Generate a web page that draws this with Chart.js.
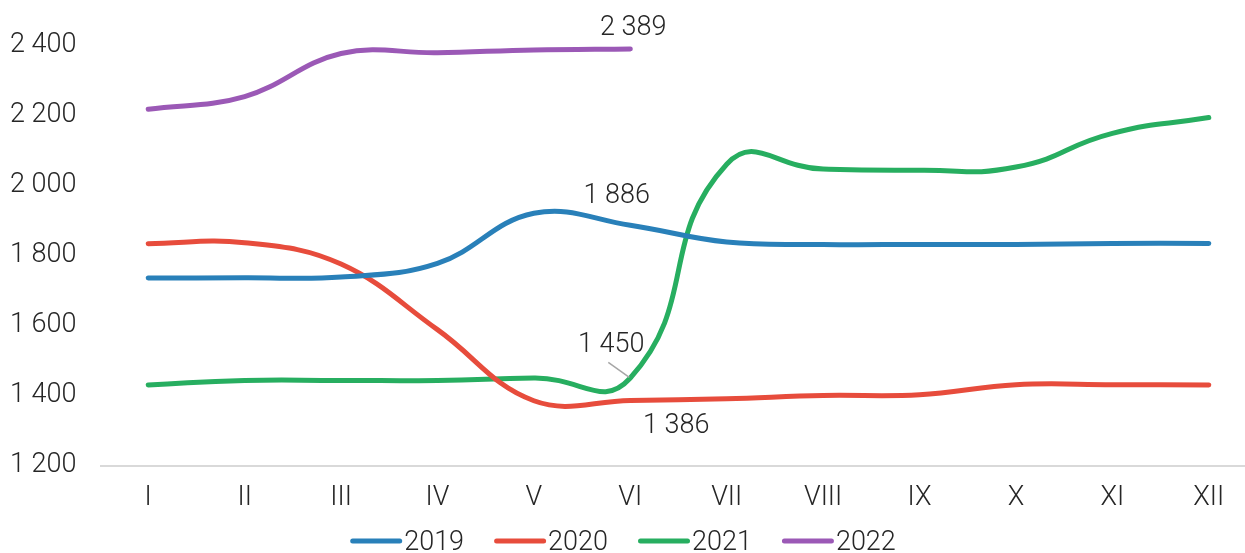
<!DOCTYPE html>
<html><head><meta charset="utf-8">
<script src="https://cdn.jsdelivr.net/npm/chart.js@4/dist/chart.umd.min.js"></script>
<style>
html,body{margin:0;padding:0;background:#fff;overflow:hidden;width:1245px;height:553px}
#wrap{width:1258px;height:553px;position:relative}
</style></head>
<body><div id="wrap"><canvas id="c"></canvas></div>
<script>
const categories = ['I','II','III','IV','V','VI','VII','VIII','IX','X','XI','XII'];
const seriesNames = ['2019','2020','2021','2022'];
const values2019 = [1735, 1736, 1738, 1777, 1920, 1886, 1838, 1831, 1831, 1831, 1834, 1834];
const values2020 = [1833, 1836, 1775, 1588, 1385, 1386, 1391, 1400, 1402, 1431, 1431, 1430];
const values2021 = [1430, 1443, 1443, 1443, 1450, 1450, 2060, 2046, 2043, 2052, 2148, 2193];
const values2022 = [2217, 2253, 2376, 2378, 2386, 2389];
const yTicks = [1200, 1400, 1600, 1800, 2000, 2200, 2400];
const colors = ['#2980b9', '#e74c3c', '#27ae60', '#9b59b6'];
// labelled points: [series index, category index]
const labelled = [[3,5],[0,5],[2,5],[1,5]];

const FONT = 'Roboto';
const FS = 27;
const fmt = v => String(v).replace(/\B(?=(\d{3})+(?!\d))/g, ' ');

const seriesValues = [values2019, values2020, values2021, values2022];

const labelPlugin = {
  id: 'pointLabels',
  afterDatasetsDraw(chart) {
    const ctx = chart.ctx;
    ctx.save();
    ctx.font = `300 ${FS}px ${FONT}`;
    ctx.fillStyle = '#262626';
    ctx.textAlign = 'center';
    ctx.textBaseline = 'alphabetic';
    const offs = {3:[3,-14], 0:[-13.5,-22], 2:[-19,-25.5], 1:[46,33]};
    labelled.forEach(([s,i]) => {
      const el = chart.getDatasetMeta(s).data[i];
      const [dx,dy] = offs[s];
      if (s === 2) {
        ctx.strokeStyle = '#a6a6a6';
        ctx.lineWidth = 1.5;
        ctx.beginPath();
        ctx.moveTo(el.x - 22, el.y - 15.5);
        ctx.lineTo(el.x - 1, el.y - 0.5);
        ctx.stroke();
      }
      ctx.fillText(fmt(seriesValues[s][i]), el.x + dx, el.y + dy);
    });
    ctx.restore();
  }
};

const legendPlugin = {
  id: 'customLegend',
  afterDraw(chart) {
    const ctx = chart.ctx;
    ctx.save();
    ctx.font = `300 ${FS}px ${FONT}`;
    const lineLen = 52, gapText = 3, gapItem = 29;
    const widths = seriesNames.map(n => ctx.measureText(n).width);
    const total = widths.reduce((a,w)=>a + lineLen + gapText + w, 0) + gapItem*(seriesNames.length-1);
    let x = 623.5 - total/2;
    const yLine = 541, yText = 550;
    seriesNames.forEach((n, k) => {
      ctx.strokeStyle = colors[k];
      ctx.lineWidth = 5;
      ctx.lineCap = 'round';
      ctx.beginPath();
      ctx.moveTo(x + 2.5, yLine);
      ctx.lineTo(x + lineLen - 2.5, yLine);
      ctx.stroke();
      ctx.fillStyle = '#262626';
      ctx.textAlign = 'left';
      ctx.textBaseline = 'alphabetic';
      ctx.fillText(n, x + lineLen + gapText - 1, yText);
      x += lineLen + gapText + widths[k] + gapItem;
    });
    ctx.restore();
  }
};

function build() {
  new Chart(document.getElementById('c'), {
    type: 'line',
    data: {
      labels: categories,
      datasets: seriesNames.map((n, k) => ({
        label: n,
        data: seriesValues[k],
        borderColor: colors[k],
        backgroundColor: colors[k],
        borderWidth: 5,
        pointRadius: 0,
        tension: k === 2 ? 0.5 : 0.4,
        borderCapStyle: 'round',
        borderJoinStyle: 'round',
        clip: false,
        fill: false
      }))
    },
    options: {
      responsive: true,
      maintainAspectRatio: false,
      animation: false,
      events: [],
      layout: { padding: { top: 10, right: 1, bottom: 23, left: 10 } },
      plugins: { legend: { display: false }, tooltip: { enabled: false } },
      scales: {
        x: {
          offset: true,
          grid: { display: false, drawTicks: false },
          border: { display: false },
          ticks: { color: '#262626', font: { family: FONT, size: FS, weight: 300 }, padding: 16, maxRotation: 0, autoSkip: false }
        },
        y: {
          min: 1200, max: 2500,
          bounds: 'data',
          afterBuildTicks: s => { s.ticks = yTicks.map(v => ({ value: v })); },
          afterFit: s => { s.width = 90; },
          grid: {
            drawTicks: false,
            color: c => (c.tick && c.tick.value === 1200) ? '#d9d9d9' : 'rgba(0,0,0,0)',
            lineWidth: 2
          },
          border: { display: false },
          ticks: { color: '#262626', font: { family: FONT, size: FS, weight: 300, lineHeight: 0.7 }, padding: 0, crossAlign: 'far', callback: v => fmt(v) }
        }
      }
    },
    plugins: [labelPlugin, legendPlugin]
  });
}
if (document.fonts && document.fonts.load) {
  document.fonts.load(`300 ${FS}px ${FONT}`).then(build, build);
} else build();
</script>
</body></html>
